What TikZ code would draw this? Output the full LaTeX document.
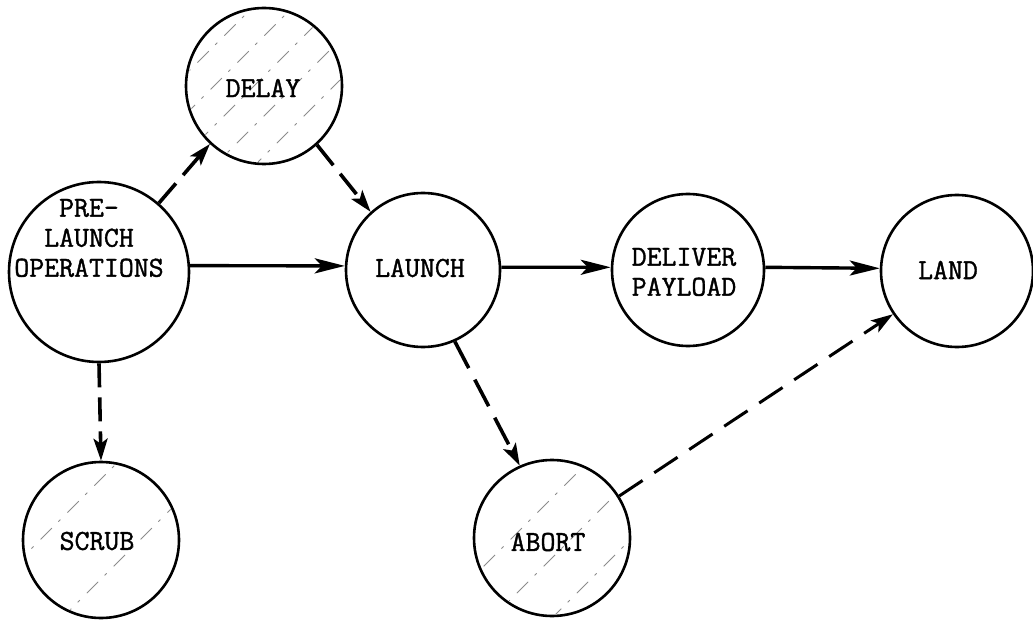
\documentclass[tikz,border=0pt]{standalone}
\usepackage{fontspec}
\newfontfamily\twfont[FakeBold=1.3]{Latin Modern Mono}
\usetikzlibrary{arrows.meta}
\begin{document}
\begin{tikzpicture}[x=1pt,y=-1pt,
  stategen/.style={circle,draw=black,line width=2.6pt,inner sep=0pt},
  lbl/.style={font=\twfont\bfseries\fontsize{29}{30}\selectfont,align=center,inner sep=0pt},
  solidarr/.style={line width=3.4pt,-{Stealth[length=30pt,width=15pt,inset=7pt]}},
  dasharr/.style={line width=3.6pt,dash pattern=on 26pt off 11pt,-{Stealth[length=22pt,width=14pt,inset=5pt]}},
  thindash/.style={line width=3pt,dash pattern=on 28pt off 14pt,-{Stealth[length=22pt,width=14pt,inset=5pt]}},
  hatch/.style={line width=0.8pt,black!45,dash pattern=on 16pt off 9pt on 3pt off 10pt}
]
\useasboundingbox (0,0) rectangle (1033,620);

% circles
\node[stategen,minimum size=180pt] (pre) at (99,272) {};
\node[stategen,minimum size=156pt] (delay) at (264,86) {};
\node[stategen,minimum size=154pt] (launch) at (423,270) {};
\node[stategen,minimum size=152pt] (deliver) at (688,270) {};
\node[stategen,minimum size=152pt] (land) at (957,271) {};
\node[stategen,minimum size=156pt] (scrub) at (101,540) {};
\node[stategen,minimum size=156pt] (abort) at (552,538) {};

% hatching (faint shading)
\begin{scope}
\clip (264,86) circle (76);
\foreach \d in {-90,-50,-10,30,70,110}
  \draw[hatch] (180+\d,170) -- (350+\d,0);
\end{scope}
\begin{scope}
\clip (101,540) circle (76);
\foreach \d in {-60,40}
  \draw[hatch] (20+\d,620) -- (180+\d,460);
\end{scope}
\begin{scope}
\clip (552,538) circle (76);
\foreach \d in {-40,20,80}
  \draw[hatch] (470+\d,620) -- (630+\d,460);
\end{scope}

% labels
\node[lbl] (tpre) at (89,238) {PRE-\\LAUNCH\\OPERATIONS};
\node[lbl] (tdelay) at (263,88) {DELAY};
\node[lbl] (tlaunch) at (420,268) {LAUNCH};
\node[lbl] (tdeliver) at (684,272) {DELIVER\\PAYLOAD};
\node[lbl] (tland) at (948,270) {LAND};
\node[lbl] (tscrub) at (97,541) {SCRUB};
\node[lbl] (tabort) at (548,542) {ABORT};

% solid connectors
\draw[solidarr] (pre.4) -- (launch.177);
\draw[solidarr] (launch.2) -- (deliver.178);
\draw[solidarr] (deliver.2) -- (land.178);

% dashed connectors
\draw[dasharr] (pre.49) -- (delay.227);
\draw[dasharr] (delay.312) -- (launch.132);
\draw[dasharr,dash pattern=on 24pt off 10pt] (pre.south) -- (scrub.north);
\draw[dasharr,dash pattern=on 30pt off 13pt] (launch.294) -- (abort.114);
\draw[thindash] (abort.32) -- (land.214);
\end{tikzpicture}
\end{document}
